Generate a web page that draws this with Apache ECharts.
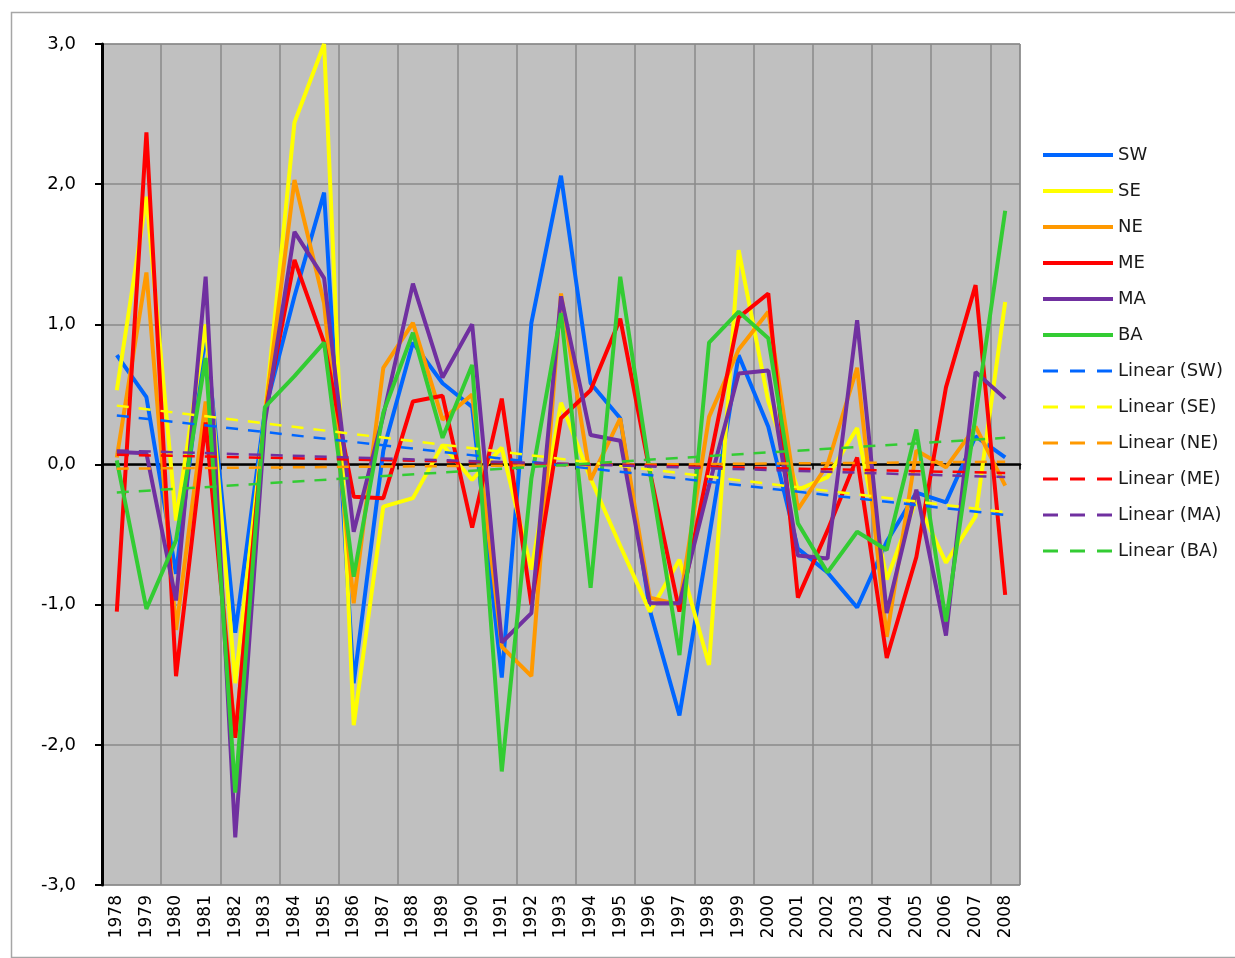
<!DOCTYPE html>
<html>
<head>
<meta charset="utf-8">
<script src="https://cdn.jsdelivr.net/npm/echarts@6/dist/echarts.min.js"></script>
<style>
  html, body { margin: 0; padding: 0; background: #fff; }
  #chart { width: 1235px; height: 958px; }
</style>
</head>
<body>
<div id="chart"></div>
<script>
// yearly anomalies per region
const years = ['1978', '1979', '1980', '1981', '1982', '1983', '1984', '1985', '1986', '1987',
  '1988', '1989', '1990', '1991', '1992', '1993', '1994', '1995', '1996', '1997',
  '1998', '1999', '2000', '2001', '2002', '2003', '2004', '2005', '2006', '2007', '2008']

const SW = [0.78, 0.48, -0.78, 0.95, -1.2, 0.38, 1.2, 1.94, -1.56, 0.1, 0.87, 0.58, 0.41, -1.52, 1.01, 2.06,
  0.58, 0.33, -1.04, -1.79, -0.52, 0.78, 0.27, -0.6, -0.77, -1.02, -0.55, -0.2, -0.27, 0.2, 0.05]
const SE = [0.53, 1.91, -0.4, 1.0, -1.56, 0.35, 2.44, 3.0, -1.86, -0.3, -0.24, 0.14, -0.11, 0.12, -0.75, 0.44,
  -0.1, -0.58, -1.05, -0.68, -1.43, 1.53, 0.45, -0.18, -0.09, 0.26, -0.82, -0.25, -0.7, -0.37, 1.16]
const NE = [0.05, 1.37, -1.18, 0.45, -1.95, 0.35, 2.03, 1.15, -0.99, 0.69, 1.01, 0.32, 0.5, -1.3, -1.51, 1.22,
  -0.11, 0.33, -0.95, -1.0, 0.34, 0.82, 1.09, -0.32, 0.0, 0.69, -1.23, 0.1, -0.02, 0.27, -0.15]
const ME = [-1.05, 2.37, -1.51, 0.3, -1.95, 0.35, 1.46, 0.87, -0.23, -0.24, 0.45, 0.49, -0.45, 0.47, -1.0, 0.33,
  0.53, 1.04, -0.05, -1.05, 0.0, 1.05, 1.22, -0.95, -0.47, 0.05, -1.38, -0.66, 0.55, 1.28, -0.93]
const MA = [0.09, 0.08, -0.97, 1.34, -2.66, 0.3, 1.66, 1.33, -0.48, 0.35, 1.29, 0.62, 1.0, -1.27, -1.06, 1.2,
  0.21, 0.17, -0.99, -0.99, -0.15, 0.65, 0.67, -0.65, -0.67, 1.03, -1.06, -0.18, -1.22, 0.66, 0.47]
const BA = [0.03, -1.03, -0.54, 0.76, -2.34, 0.41, 0.63, 0.87, -0.8, 0.37, 0.94, 0.19, 0.71, -2.19, -0.1, 1.08,
  -0.88, 1.34, -0.05, -1.36, 0.87, 1.09, 0.9, -0.42, -0.77, -0.48, -0.61, 0.25, -1.12, 0.35, 1.81]

// linear trend lines: value at 1978 and at 2008, as drawn
const trendSW = [0.35, -0.36]
const trendSE = [0.42, -0.34]
const trendNE = [-0.03, 0.02]
const trendME = [0.07, -0.06]
const trendMA = [0.1, -0.09]
const trendBA = [-0.2, 0.19]

const regions = ['SW', 'SE', 'NE', 'ME', 'MA', 'BA']
const values = [SW, SE, NE, ME, MA, BA]
const trends = [trendSW, trendSE, trendNE, trendME, trendMA, trendBA]
const colors = ['#0066ff', '#ffff00', '#ff9900', '#ff0000', '#7030a0', '#33cc33']

// two end points, gaps in between, joined by connectNulls
function trendData(t) {
  return years.map(function (y, i) {
    if (i === 0) return t[0]
    if (i === years.length - 1) return t[1]
    return null
  })
}

const series = []
const legendItems = []
regions.forEach(function (r, i) {
  series.push({
    name: r, type: 'line', data: values[i], symbol: 'none',
    lineStyle: { color: colors[i], width: 4 }, itemStyle: { color: colors[i] },
  })
  legendItems.push({ name: r, lineStyle: { width: 4, type: 'solid' } })
})
regions.forEach(function (r, i) {
  const name = 'Linear (' + r + ')'
  series.push({
    name: name, type: 'line', data: trendData(trends[i]), symbol: 'none', connectNulls: true,
    lineStyle: { color: colors[i], width: 2.5, type: [12, 10] }, itemStyle: { color: colors[i] },
  })
  legendItems.push({ name: name, lineStyle: { width: 3, type: [15, 12] } })
})

const chart = echarts.init(document.getElementById('chart'))
chart.setOption({
  animation: false,
  backgroundColor: '#fff',
  textStyle: { fontFamily: 'DejaVu Sans' },
  graphic: [{
    type: 'rect', left: 9, top: 10, shape: { width: 1230, height: 945 },
    style: { fill: 'none', stroke: '#a6a6a6', lineWidth: 1.5 }, silent: true, z: -1,
  }],
  grid: {
    left: 102, top: 44, width: 918, height: 841,
    show: true, backgroundColor: '#c0c0c0', borderColor: '#8a8a8a', borderWidth: 1,
  },
  legend: {
    orient: 'vertical', left: 1036, top: 141,
    itemWidth: 70, itemHeight: 14, itemGap: 18,
    itemStyle: { opacity: 0 },
    textStyle: { fontSize: 18, color: '#1a1a1a', fontFamily: 'DejaVu Sans' },
    data: legendItems,
  },
  xAxis: [{
    type: 'category', data: years, boundaryGap: true,
    axisLine: { onZero: true, lineStyle: { color: '#000', width: 2.5 } },
    axisTick: { show: true, length: 5, lineStyle: { color: '#000', width: 1.5 } },
    axisLabel: { show: false },
    splitLine: { show: true, lineStyle: { color: '#8a8a8a', width: 1.5 } },
  }, {
    type: 'category', data: years, boundaryGap: true, position: 'bottom',
    axisLine: { show: false, onZero: false },
    axisTick: { show: false },
    splitLine: { show: false },
    axisLabel: { rotate: 90, fontSize: 17, color: '#000', margin: 10, interval: 0 },
  }],
  yAxis: {
    type: 'value', min: -3, max: 3, interval: 1,
    axisLine: { show: true, onZero: false, lineStyle: { color: '#000', width: 3 } },
    axisTick: { show: true, length: 7, lineStyle: { color: '#000', width: 2 } },
    axisLabel: {
      fontSize: 18, color: '#000', margin: 26,
      formatter: function (v) { return v.toFixed(1).replace('.', ',') },
    },
    splitLine: { show: true, lineStyle: { color: '#8a8a8a', width: 1.5 } },
  },
  series: series,
})
</script>
</body>
</html>
